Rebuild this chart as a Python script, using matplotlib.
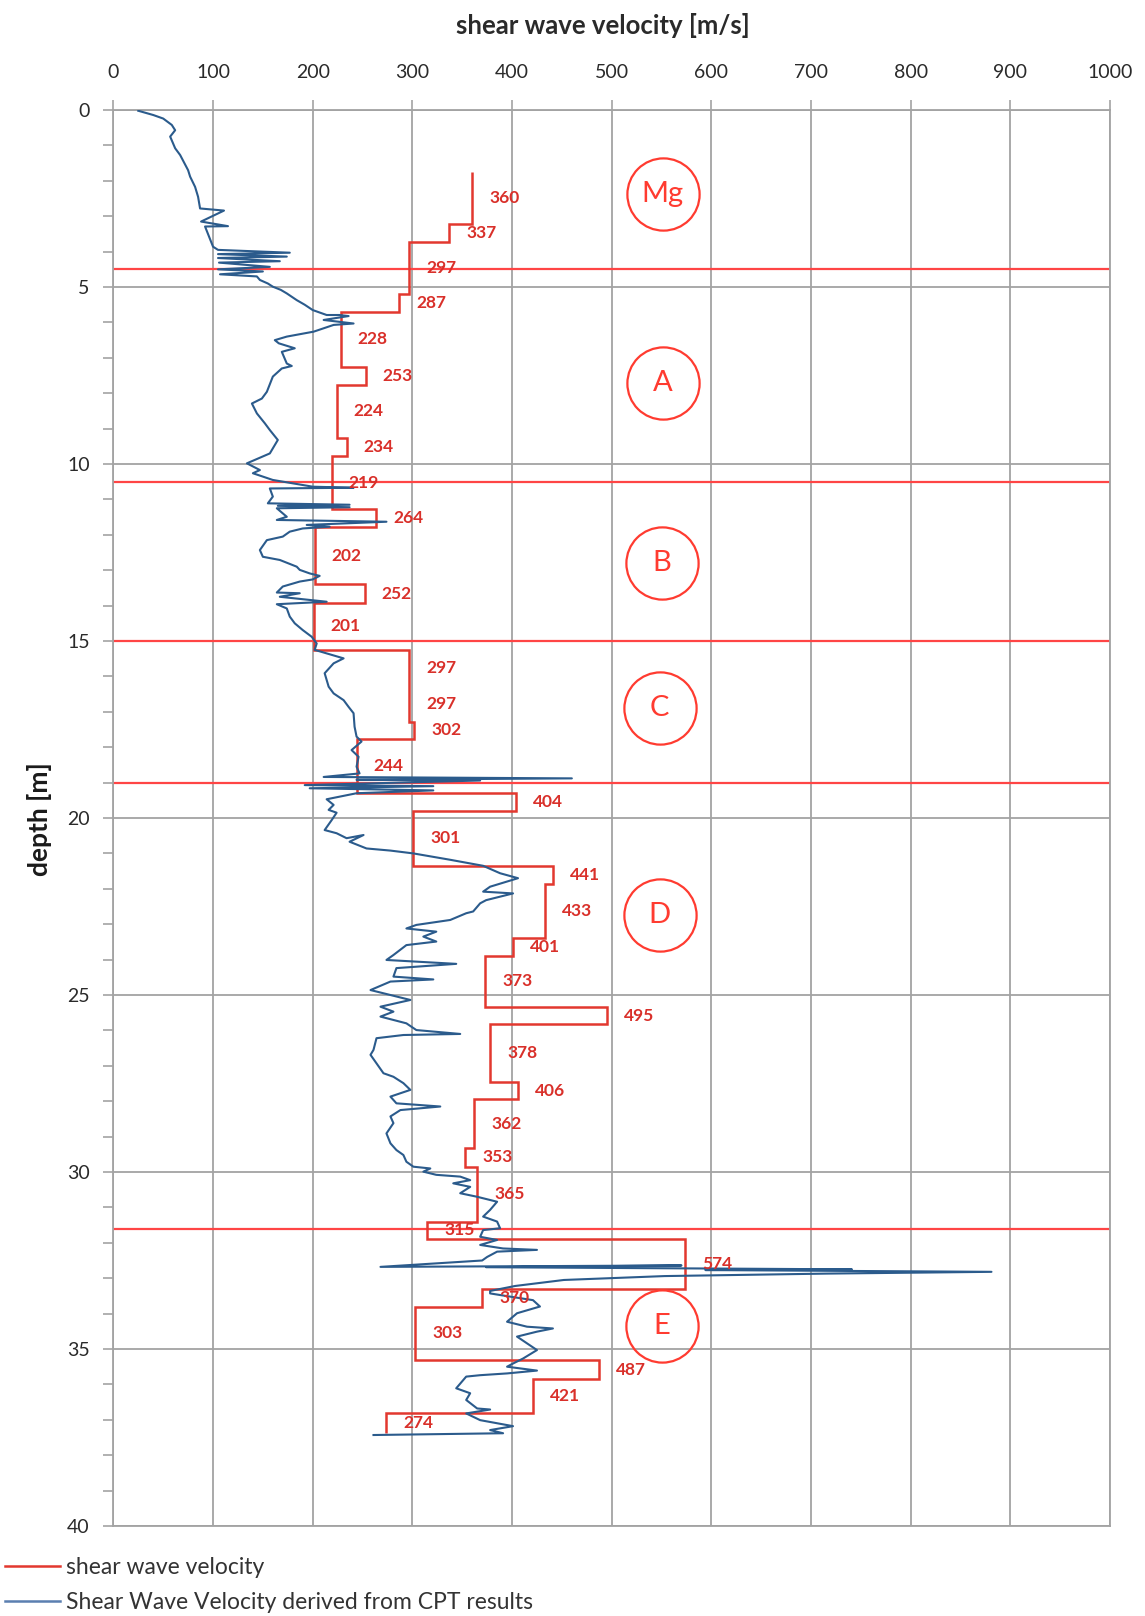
import matplotlib

matplotlib.use("Agg")

import matplotlib.pyplot as plt
from matplotlib.lines import Line2D

plt.rcParams['font.family'] = ['Lato', 'DejaVu Sans']

# layer boundaries (depth, m) and shear wave velocity per layer (m/s)
layer_edges = [1.75, 3.23, 3.74, 5.20, 5.70, 7.25, 7.77, 9.26, 9.77, 11.28,
               11.79, 13.40, 13.92, 15.25, 16.25, 17.28, 17.77, 19.30, 19.79,
               21.35, 21.85, 23.38, 23.90, 25.33, 25.83, 27.45, 27.95, 29.33,
               29.85, 31.40, 31.90, 33.31, 33.80, 35.31, 35.86, 36.82, 37.36]
layer_vs = [360, 337, 297, 287, 228, 253, 224, 234, 219, 264, 202, 252, 201,
            297, 297, 302, 244, 404, 301, 441, 433, 401, 373, 495, 378, 406,
            362, 353, 365, 315, 574, 370, 303, 487, 421, 274]

# CPT derived shear wave velocity
cpt_vs = [25, 40, 50, 58.6, 62, 57, 62, 67, 75, 77, 82, 85, 87, 111, 88, 115, 92,
          100, 105, 177, 105, 174, 105, 167, 106, 157, 105, 150, 107, 144, 147,
          155, 160, 168, 174, 184, 192, 200, 214,
          227, 236, 211, 241, 221, 201, 174, 162, 166, 182, 169, 174, 179, 169,
          160, 154, 149, 139, 144, 152, 157, 165, 157, 134, 147, 140, 160, 200,
          241, 157, 160, 155, 237, 165, 237, 164, 174, 164, 274, 194, 217, 190,
          177, 170, 154, 147, 150, 167, 184, 187, 197, 207, 200, 187, 170, 164,
          187, 167, 214, 164, 174, 177, 182, 190, 199, 204, 202, 214, 231, 221,
          212, 216, 221, 231, 236, 241, 242, 244, 249, 239, 246, 244, 247,
          211, 460, 244, 368, 192, 321, 197, 321, 244, 214, 221, 216, 224, 219,
          212, 224, 234, 251, 237, 254, 278, 301, 338, 371, 388, 406, 378, 371,
          401, 374, 368, 361, 354, 338, 304, 294, 324, 311, 324, 294, 281, 274,
          344, 284, 281, 321, 278, 258, 271, 298, 268, 281, 268, 294, 304, 348,
          291, 264, 261, 258, 264, 271, 281, 291, 298, 278, 284, 328, 288, 278,
          281, 274, 278, 284, 291, 294, 301, 318, 311, 324,
          348, 358, 341, 358, 348, 365, 385, 378, 371, 385, 388, 371, 368, 385,
          368, 391, 425, 385, 375, 370,
          268, 570, 374, 741, 594, 881, 716, 553, 452, 403, 378,
          378, 398, 421, 428, 405, 395, 415, 441, 425, 405, 415, 425, 411, 401,
          395, 425, 395, 368, 354, 344, 358, 354, 365, 378, 354, 368, 401, 378,
          391, 261]
cpt_depth = [0.02, 0.14, 0.24, 0.42, 0.57, 0.75, 1.08, 1.27, 1.70, 1.88, 2.17,
             2.45, 2.78, 2.84, 3.15, 3.28, 3.29,
             3.86, 3.95, 4.03, 4.07, 4.14, 4.18, 4.27, 4.31, 4.43, 4.50, 4.56,
             4.64, 4.70, 4.80, 4.90, 4.99, 5.08, 5.18, 5.37, 5.50, 5.65, 5.79,
             5.79, 5.82, 5.93, 6.03, 6.07, 6.26, 6.40, 6.50, 6.59, 6.73, 6.83,
             7.16, 7.23, 7.30, 7.53, 7.96, 8.15, 8.29, 8.57, 8.85, 9.04, 9.32,
             9.70, 9.98, 10.17, 10.26, 10.45, 10.64, 10.67, 10.69, 10.92, 11.11,
             11.15, 11.18, 11.22, 11.25, 11.49, 11.58, 11.63, 11.72, 11.77,
             11.82, 11.91, 12.05, 12.15, 12.43, 12.62, 12.71, 12.90, 12.99,
             13.09, 13.16, 13.26, 13.32, 13.46, 13.63, 13.65, 13.75, 13.89,
             13.96, 14.08, 14.31, 14.50, 14.69, 14.88, 15.07, 15.25, 15.35,
             15.49, 15.63, 15.91, 16.29, 16.48, 16.67, 16.86, 17.04, 17.42,
             17.70, 17.84, 18.08, 18.27, 18.55, 18.74,
             18.84, 18.88, 18.92, 18.94, 19.07, 19.10, 19.16, 19.22, 19.30,
             19.47, 19.63, 19.77, 19.85, 20.06,
             20.34, 20.43, 20.57, 20.48, 20.67, 20.86, 20.92, 21.00, 21.18,
             21.35, 21.56, 21.70, 21.94, 22.08, 22.13, 22.32, 22.41, 22.64,
             22.69, 22.88, 23.02, 23.12, 23.21, 23.35, 23.49, 23.59, 23.87,
             24.01, 24.12, 24.24, 24.48, 24.56, 24.62, 24.86, 24.95, 25.14,
             25.33, 25.47, 25.61, 25.80, 25.99, 26.10, 26.13, 26.22, 26.55,
             26.69, 26.93, 27.21, 27.31, 27.49, 27.68, 27.87, 28.06, 28.15,
             28.25, 28.43, 28.62, 28.91, 29.19, 29.38, 29.52, 29.71, 29.85,
             29.90, 29.99, 30.08,
             30.13, 30.23, 30.32, 30.42, 30.60, 30.70, 30.84, 31.07, 31.26,
             31.40, 31.59, 31.64, 31.83, 31.92, 32.06, 32.16, 32.20, 32.25,
             32.40, 32.50,
             32.68, 32.64, 32.69, 32.75, 32.77, 32.82, 32.87, 32.94, 33.05,
             33.22, 33.36,
             33.43, 33.52, 33.62, 33.80, 33.99, 34.23, 34.37, 34.42, 34.51,
             34.65, 34.84, 35.03, 35.27, 35.41, 35.50, 35.61, 35.69, 35.74,
             35.78, 36.11, 36.25, 36.44, 36.68, 36.71, 36.82, 37.01, 37.18,
             37.29, 37.38, 37.43]

# unit boundaries and unit names
unit_bounds = [4.5, 10.5, 15.0, 19.0, 31.6]
unit_names = ['Mg', 'A', 'B', 'C', 'D', 'E']
unit_depth = [2.37, 7.7, 12.8, 16.9, 22.75, 34.36]
unit_vs = [551, 551, 550, 548, 548, 550]

red = '#e2382f'
grid_c = '#a3a3a3'

fig = plt.figure(figsize=(11.45, 16.16), dpi=100)
ax = fig.add_axes([0.099, 0.0557, 0.8705, 0.8762])

ax.stairs(layer_vs, layer_edges, orientation='horizontal', baseline=None,
          color=red, lw=1.8, zorder=3)
ax.plot(cpt_vs, cpt_depth, color='#2b5b8c', lw=1.5, zorder=4)

for i, v in enumerate(layer_vs):
    mid = (layer_edges[i] + layer_edges[i + 1]) / 2
    ax.text(v + 17, mid, str(v), color='#d9302a', fontsize=12.5,
            fontweight='bold', ha='left', va='center', zorder=5)

for b in unit_bounds:
    ax.axhline(b, color='#ff4545', lw=1.6, zorder=2)

ax.plot(unit_vs, unit_depth, 'o', ms=52, mfc='none', mec='#ff3b30', mew=1.6,
        zorder=5)
for name, v, d in zip(unit_names, unit_vs, unit_depth):
    ax.text(v, d, name, color='#ff3b30', fontsize=21, ha='center',
            va='center', zorder=6)

ax.set_xlim(0, 1000)
ax.set_ylim(40, 0)
ax.xaxis.tick_top()
ax.set_xticks(range(0, 1001, 100))
ax.set_yticks(range(0, 41, 5))
ax.set_yticks(range(0, 41, 1), minor=True)
ax.grid(True, color=grid_c, lw=1.3)
ax.tick_params(axis='x', length=7, color=grid_c, width=1.2, pad=14,
               labelsize=14, labelcolor='#2a2a2a')
ax.tick_params(axis='y', which='both', length=7, color=grid_c, width=1.2,
               pad=10, labelsize=14, labelcolor='#2a2a2a')
for s in ax.spines.values():
    s.set_color(grid_c)
    s.set_linewidth(1.3)

fig.text(603 / 1145, 1 - 26 / 1616, 'shear wave velocity [m/s]',
         fontsize=18.5, fontweight='bold', color='#2a2a2a', ha='center',
         va='center')
fig.text(39 / 1145, 1 - 819 / 1616, 'depth [m]', fontsize=19,
         fontweight='bold', color='#1a1a1a', ha='center', va='center',
         rotation=90)

handles = [Line2D([], [], color=red, lw=1.8),
           Line2D([], [], color='#5b7fb0', lw=1.8)]
fig.legend(handles, ['shear wave velocity',
                     'Shear Wave Velocity derived from CPT results'],
           loc='upper left', bbox_to_anchor=(0.004, 1 - 1557 / 1616),
           frameon=False, fontsize=16.5, handlelength=2.4, handletextpad=0.3,
           borderaxespad=0, borderpad=0, labelspacing=0.6,
           labelcolor='#333333')

fig.savefig("out.png", dpi=100)
plt.close(fig)
